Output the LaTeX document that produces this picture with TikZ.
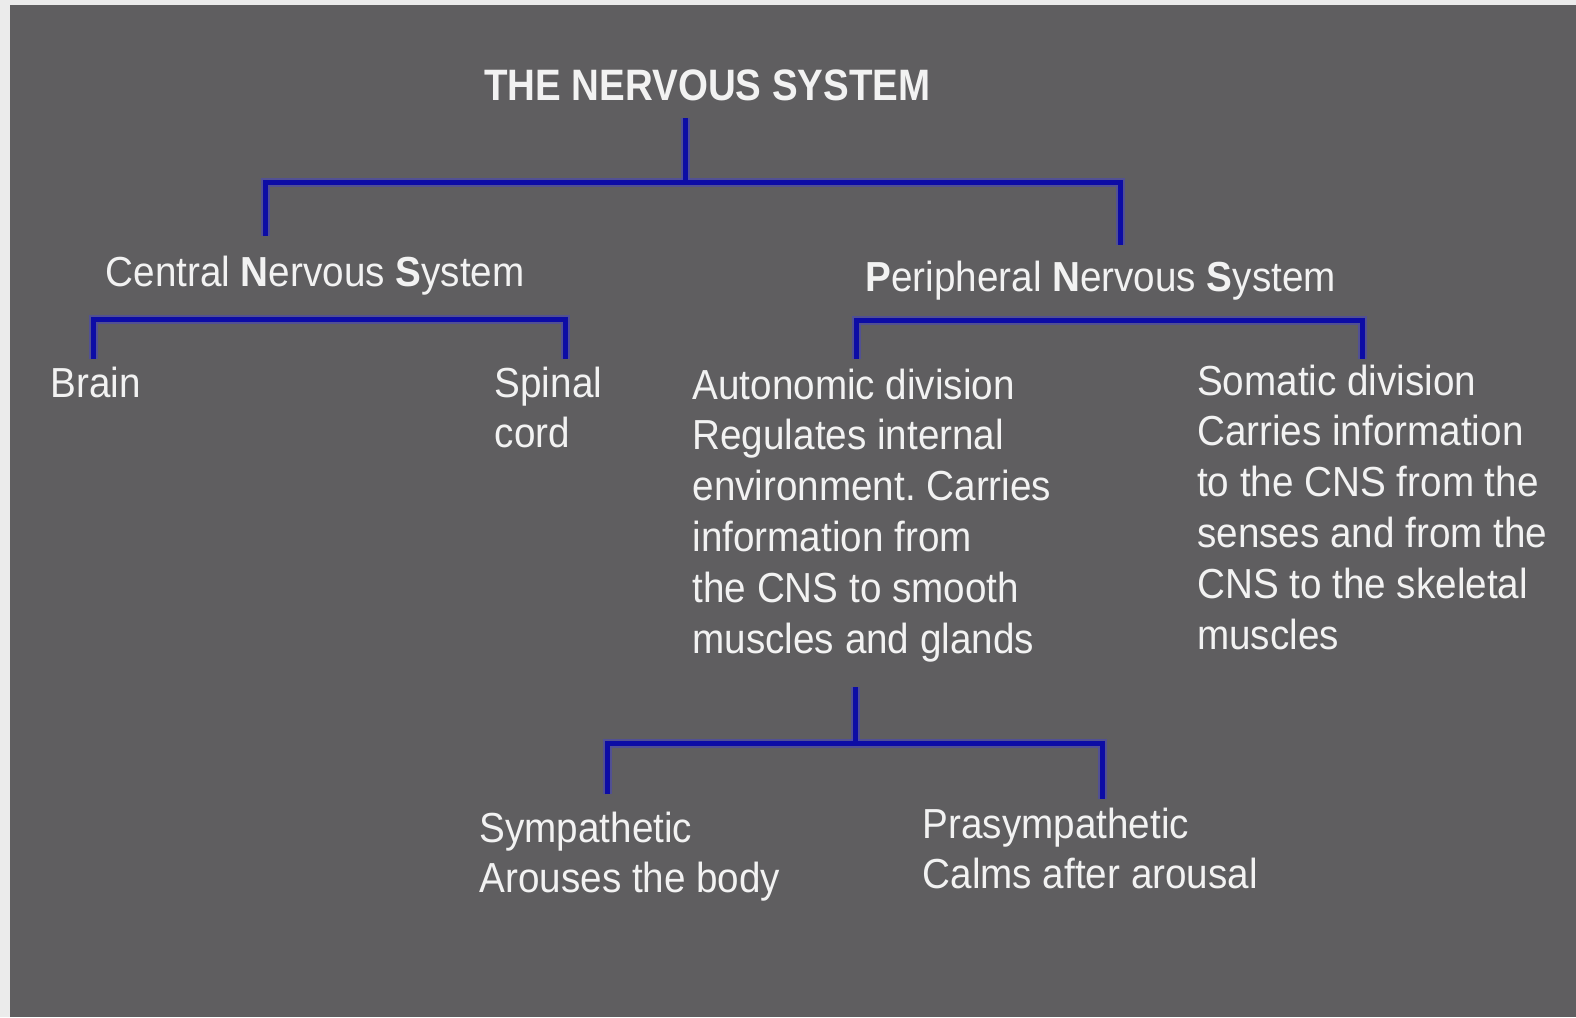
\documentclass[tikz,border=0pt]{standalone}
\usepackage{fontspec}
\setmainfont{Liberation Sans}
\newfontfamily\bodyf[FakeStretch=0.92]{Liberation Sans}
\newfontfamily\titlef[FakeStretch=0.875]{Liberation Sans}
\frenchspacing
\definecolor{bgc}{RGB}{95,94,96}
\definecolor{edgec}{RGB}{235,235,235}
\definecolor{textc}{RGB}{242,242,242}
\definecolor{linec}{RGB}{12,12,165}
\definecolor{glowc}{RGB}{70,70,190}
\tikzset{
  txt/.style={anchor=base west, inner sep=0pt, text=textc, align=left,
    font=\bodyf\frenchspacing\fontsize{42}{50.85}\selectfont},
  ttl/.style={anchor=base west, inner sep=0pt, text=textc,
    font=\titlef\bfseries\fontsize{44}{50}\selectfont},
  glow/.style={draw=glowc, line width=9pt, opacity=0.55, line join=miter},
  conn/.style={draw=linec, line width=5pt, line join=miter}
}
\begin{document}
\begin{tikzpicture}[x=1pt,y=-1pt]
\useasboundingbox (0,0) rectangle (1576,1017);
\fill[edgec] (0,0) rectangle (1576,1017);
\fill[bgc] (10,5) rectangle (1576,1017);

% texts (base anchor = baseline of the last line)
\node[ttl] (title) at (484,100.5) {THE NERVOUS SYSTEM};
\node[txt] (cns) at (105.5,286.4) {Central {\bfseries N}ervous {\bfseries S}ystem};
\node[txt] (pns) at (865.3,291.5) {{\bfseries P}eripheral {\bfseries N}ervous {\bfseries S}ystem};
\node[txt] (brain) at (50.3,397) {Brain};
\node[txt] (spinal) at (494.5,447.85) {Spinal\\cord};
\node[txt] (auto) at (692.4,653.3) {Autonomic division\\Regulates internal\\environment. Carries\\information from\\the CNS to smooth\\muscles and glands};
\node[txt] (soma) at (1197,649.3) {Somatic division\\Carries information\\to the CNS from the\\senses and from the\\CNS to the skeletal\\muscles};
\node[txt] (symp) at (479.4,892.85) {Sympathetic\\Arouses the body};
\node[txt] (para) at (922.6,888.85) {Prasympathetic\\Calms after arousal};

% connector points
\coordinate (ts) at (685,118);
\coordinate (tj) at (685,182);
\coordinate (cnsE) at (265,236);
\coordinate (pnsE) at (1120,245);
\coordinate (cb) at (0,319.6);
\coordinate (brainE) at (93.5,359);
\coordinate (spinE) at (565,359);
\coordinate (pb) at (0,320.6);
\coordinate (autoE) at (856.8,359);
\coordinate (somaE) at (1362.5,359);
\coordinate (as) at (855.3,687.4);
\coordinate (aj) at (855.3,743.7);
\coordinate (sympE) at (607,794);
\coordinate (paraE) at (1102.5,799);

\foreach \s in {glow,conn}{
  \draw[\s] (ts) -- (tj);
  \draw[\s] (cnsE) -- (cnsE |- tj) -- (pnsE |- tj) -- (pnsE);
  \draw[\s] (brainE) -- (brainE |- cb) -- (spinE |- cb) -- (spinE);
  \draw[\s] (autoE) -- (autoE |- pb) -- (somaE |- pb) -- (somaE);
  \draw[\s] (as) -- (aj);
  \draw[\s] (sympE) -- (sympE |- aj) -- (paraE |- aj) -- (paraE);
}
\end{tikzpicture}
\end{document}
